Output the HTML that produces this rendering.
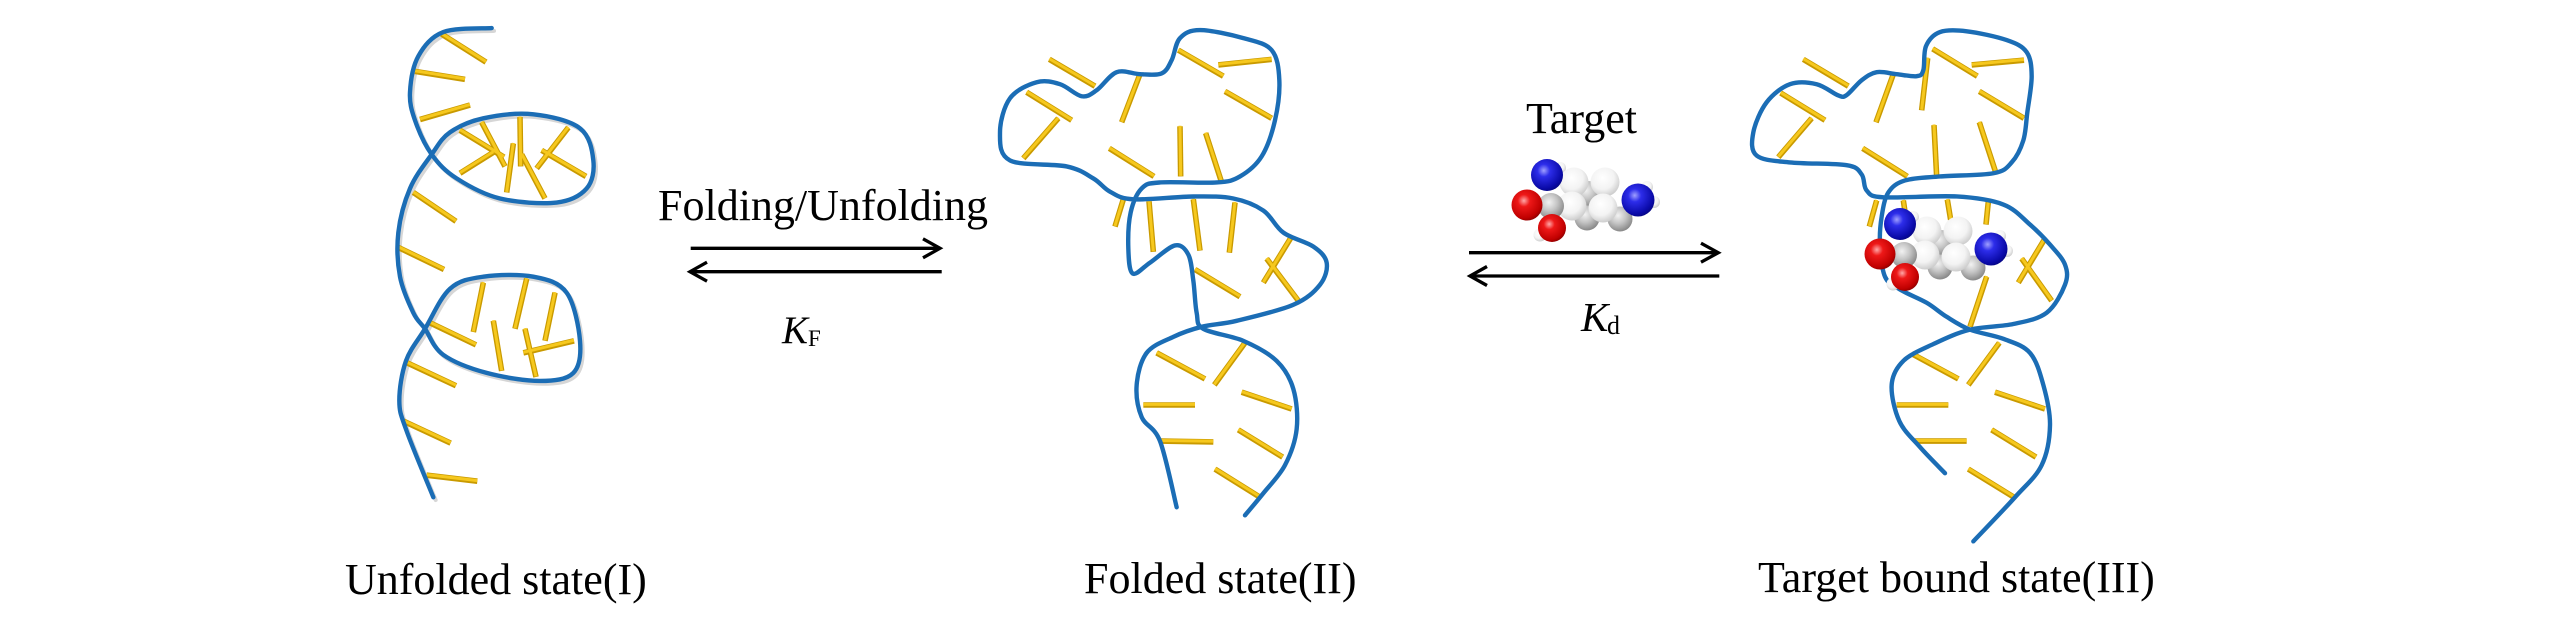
<!DOCTYPE html>
<html>
<head>
<meta charset="utf-8">
<style>
html,body{margin:0;padding:0;background:#fff;}
svg{display:block;}
.bb{fill:none;stroke:#1b6db5;stroke-width:4.4;stroke-linejoin:round;stroke-linecap:round;vector-effect:non-scaling-stroke;}
.sh{fill:none;stroke:#d6d6d6;stroke-width:4;stroke-linejoin:round;stroke-linecap:round;vector-effect:non-scaling-stroke;}
.rd line{stroke:#c99a00;stroke-width:5.6;stroke-linecap:butt;vector-effect:non-scaling-stroke;}
.rd2 line{stroke:#f6c81e;stroke-width:3;stroke-linecap:butt;vector-effect:non-scaling-stroke;}
.ar{stroke:#000;stroke-width:3.3;fill:none;stroke-linecap:butt;stroke-linejoin:miter;}
text{font-family:"Liberation Serif","Times New Roman",serif;fill:#000;}
</style>
</head>
<body>
<svg xmlns="http://www.w3.org/2000/svg" xmlns:xlink="http://www.w3.org/1999/xlink" width="2567" height="630" viewBox="0 0 2567 630">
<defs>
<radialGradient id="gB" cx="0.4" cy="0.36" r="0.7"><stop offset="0" stop-color="#a0a0ff"/><stop offset="0.28" stop-color="#2d2dea"/><stop offset="0.8" stop-color="#0a0aa8"/><stop offset="1" stop-color="#05057a"/></radialGradient>
<radialGradient id="gR" cx="0.4" cy="0.36" r="0.7"><stop offset="0" stop-color="#ffa8a8"/><stop offset="0.28" stop-color="#ee1818"/><stop offset="0.8" stop-color="#c00000"/><stop offset="1" stop-color="#800000"/></radialGradient>
<radialGradient id="gW" cx="0.42" cy="0.36" r="0.72"><stop offset="0" stop-color="#ffffff"/><stop offset="0.55" stop-color="#f3f3f3"/><stop offset="1" stop-color="#c2c2c2"/></radialGradient>
<radialGradient id="gG" cx="0.42" cy="0.36" r="0.72"><stop offset="0" stop-color="#f2f2f2"/><stop offset="0.45" stop-color="#c4c4c4"/><stop offset="1" stop-color="#7a7a7a"/></radialGradient>
</defs>
<rect x="0" y="0" width="2567" height="630" fill="#fff"/>

<!-- ============ Unfolded state (I) ============ -->
<g transform="translate(300,0) scale(0.33333,0.401)">
  <polyline class="sh" transform="translate(7,7)" points="575,70 430,80 355,140 330,230 345,300 395,385 470,445 600,495 770,505 860,470 880,400 840,320 700,285 550,295 450,330 395,385 330,470 295,580 300,690 340,780 375,820 430,885 560,930 720,950 820,930 840,850 800,730 700,690 550,690 450,720 375,820 318,900 298,1000 320,1075 400,1240"/>
  <g class="rd">
    <line x1="425" y1="85" x2="558" y2="155"/>
    <line x1="345" y1="178" x2="495" y2="198"/>
    <line x1="360" y1="298" x2="510" y2="262"/>
    <line x1="480" y1="325" x2="612" y2="392"/>
    <line x1="545" y1="305" x2="615" y2="415"/>
    <line x1="660" y1="292" x2="662" y2="415"/>
    <line x1="480" y1="432" x2="580" y2="380"/>
    <line x1="620" y1="480" x2="640" y2="358"/>
    <line x1="665" y1="385" x2="735" y2="495"/>
    <line x1="710" y1="420" x2="805" y2="318"/>
    <line x1="725" y1="375" x2="858" y2="440"/>
    <line x1="340" y1="480" x2="468" y2="552"/>
    <line x1="290" y1="615" x2="432" y2="672"/>
    <line x1="520" y1="828" x2="550" y2="705"/>
    <line x1="580" y1="800" x2="605" y2="925"/>
    <line x1="645" y1="820" x2="680" y2="695"/>
    <line x1="735" y1="850" x2="765" y2="730"/>
    <line x1="670" y1="880" x2="822" y2="850"/>
    <line x1="675" y1="820" x2="708" y2="940"/>
    <line x1="390" y1="805" x2="528" y2="860"/>
    <line x1="322" y1="905" x2="468" y2="962"/>
    <line x1="310" y1="1050" x2="452" y2="1105"/>
    <line x1="380" y1="1185" x2="532" y2="1200"/>
  </g>
  <polyline class="bb" points="575,70 430,80 355,140 330,230 345,300 395,385 470,445 600,495 770,505 860,470 880,400 840,320 700,285 550,295 450,330 395,385 330,470 295,580 300,690 340,780 375,820 430,885 560,930 720,950 820,930 840,850 800,730 700,690 550,690 450,720 375,820 318,900 298,1000 320,1075 400,1240"/>
</g>

<!-- ============ Folded state (II) ============ -->
<g transform="translate(960,0) scale(0.33333,0.401)">
  <g class="rd">
    <line x1="268" y1="148" x2="405" y2="215"/>
    <line x1="200" y1="230" x2="335" y2="300"/>
    <line x1="295" y1="295" x2="190" y2="395"/>
    <line x1="540" y1="185" x2="485" y2="305"/>
    <line x1="655" y1="125" x2="790" y2="190"/>
    <line x1="775" y1="162" x2="935" y2="148"/>
    <line x1="795" y1="228" x2="935" y2="295"/>
    <line x1="448" y1="370" x2="582" y2="440"/>
    <line x1="660" y1="315" x2="662" y2="440"/>
    <line x1="737" y1="332" x2="785" y2="455"/>
    <line x1="490" y1="497" x2="465" y2="565"/>
    <line x1="567" y1="502" x2="580" y2="628"/>
    <line x1="700" y1="497" x2="720" y2="625"/>
    <line x1="825" y1="505" x2="808" y2="630"/>
    <line x1="705" y1="672" x2="840" y2="740"/>
    <line x1="995" y1="590" x2="910" y2="705"/>
    <line x1="920" y1="645" x2="1015" y2="750"/>
    <line x1="590" y1="880" x2="735" y2="945"/>
    <line x1="855" y1="855" x2="763" y2="960"/>
    <line x1="550" y1="1010" x2="705" y2="1010"/>
    <line x1="845" y1="978" x2="995" y2="1020"/>
    <line x1="600" y1="1100" x2="760" y2="1102"/>
    <line x1="835" y1="1072" x2="968" y2="1140"/>
    <line x1="765" y1="1170" x2="900" y2="1240"/>
  </g>
  <polyline class="bb" points="650,1265 600,1100 545,1040 530,960 560,880 640,840 725,815 830,800 1000,760 1080,710 1100,655 1060,615 970,580 910,525 820,495 700,490 520,497 450,478 400,445 320,415 150,400 120,330 150,245 230,205 300,210 365,240 410,225 470,180 540,185 605,183 635,150 660,95 720,75 850,95 935,125 958,200 945,300 905,390 840,440 770,455 600,455 545,470 512,530 505,620 518,682 570,655 645,612 685,635 700,700 710,780 730,820 850,850 950,900 1000,970 1010,1070 975,1160 910,1230 855,1285"/>
</g>

<!-- ============ Target bound state (III) ============ -->
<g transform="translate(1740,0) scale(0.33333,0.401)">
  <g class="rd">
    <line x1="190" y1="148" x2="325" y2="215"/>
    <line x1="122" y1="232" x2="255" y2="300"/>
    <line x1="215" y1="295" x2="115" y2="392"/>
    <line x1="460" y1="185" x2="408" y2="305"/>
    <line x1="563" y1="145" x2="545" y2="275"/>
    <line x1="578" y1="122" x2="712" y2="190"/>
    <line x1="695" y1="162" x2="852" y2="150"/>
    <line x1="718" y1="228" x2="852" y2="295"/>
    <line x1="368" y1="370" x2="502" y2="440"/>
    <line x1="582" y1="312" x2="590" y2="440"/>
    <line x1="718" y1="305" x2="768" y2="432"/>
    <line x1="410" y1="500" x2="388" y2="565"/>
    <line x1="490" y1="500" x2="495" y2="528"/>
    <line x1="622" y1="498" x2="632" y2="548"/>
    <line x1="745" y1="503" x2="738" y2="560"/>
    <line x1="915" y1="595" x2="835" y2="705"/>
    <line x1="845" y1="645" x2="935" y2="750"/>
    <line x1="740" y1="690" x2="690" y2="815"/>
    <line x1="515" y1="882" x2="655" y2="945"/>
    <line x1="778" y1="855" x2="685" y2="960"/>
    <line x1="765" y1="978" x2="915" y2="1020"/>
    <line x1="470" y1="1010" x2="625" y2="1010"/>
    <line x1="525" y1="1100" x2="680" y2="1100"/>
    <line x1="755" y1="1072" x2="888" y2="1140"/>
    <line x1="685" y1="1170" x2="822" y2="1240"/>
  </g>
  <polyline class="bb" points="615,1180 540,1115 478,1050 455,960 490,900 580,858 690,822 820,808 920,780 975,710 975,660 930,610 870,560 790,510 650,490 430,492 380,475 365,435 320,412 150,405 50,388 40,330 80,255 150,210 230,210 295,238 320,237 365,200 410,180 470,185 530,190 550,175 558,115 600,80 680,78 800,100 860,130 875,190 862,280 850,350 815,405 760,432 600,440 495,450 445,480 425,540 420,610 435,690 480,722 560,755 620,790 690,822 790,845 870,880 910,960 930,1060 905,1160 825,1240 700,1350"/>
</g>

<!-- ============ Molecule (target) ============ -->
<g id="mol">
  <circle cx="1588" cy="194" r="13" fill="url(#gG)"/>
  <circle cx="1587" cy="218" r="12.5" fill="url(#gG)"/>
  <circle cx="1620" cy="219" r="12.5" fill="url(#gG)"/>
  <circle cx="1560" cy="168" r="6" fill="url(#gW)"/>
  <circle cx="1647" cy="187" r="6" fill="url(#gW)"/>
  <circle cx="1654" cy="202" r="6" fill="url(#gW)"/>
  <circle cx="1574" cy="182" r="14.5" fill="url(#gW)"/>
  <circle cx="1605" cy="182" r="14.5" fill="url(#gW)"/>
  <circle cx="1572" cy="206" r="14.5" fill="url(#gW)"/>
  <circle cx="1603" cy="208" r="14.5" fill="url(#gW)"/>
  <circle cx="1551" cy="206" r="13" fill="url(#gG)"/>
  <circle cx="1540" cy="235" r="6.5" fill="url(#gW)"/>
  <circle cx="1552" cy="228" r="14" fill="url(#gR)"/>
  <circle cx="1547" cy="175" r="16" fill="url(#gB)"/>
  <circle cx="1527" cy="205" r="15.5" fill="url(#gR)"/>
  <circle cx="1638" cy="200" r="16.5" fill="url(#gB)"/>
</g>
<use href="#mol" xlink:href="#mol" transform="translate(353,49)"/>

<!-- ============ Arrows ============ -->
<line class="ar" x1="690.7" y1="248.3" x2="939" y2="248.3"/>
<polyline class="ar" points="923,238.8 940,248.3 923,257.8"/>
<line class="ar" x1="691" y1="271.7" x2="941.7" y2="271.7"/>
<polyline class="ar" points="707,262.2 690,271.7 707,281.2"/>

<line class="ar" x1="1469" y1="252.7" x2="1717.3" y2="252.7"/>
<polyline class="ar" points="1701,243.2 1718.3,252.7 1701,262.2"/>
<line class="ar" x1="1471" y1="276" x2="1719.3" y2="276"/>
<polyline class="ar" points="1487,266.5 1470,276 1487,285.5"/>

<!-- ============ Text ============ -->
<text x="658" y="220" font-size="44">Folding/Unfolding</text>
<text x="782" y="343" font-size="39" font-style="italic">K</text>
<text x="808" y="346" font-size="23">F</text>

<text x="1526" y="133" font-size="44">Target</text>
<text x="1581" y="331" font-size="41" font-style="italic">K</text>
<text x="1607" y="334" font-size="26">d</text>

<text x="345" y="594" font-size="44">Unfolded state(I)</text>
<text x="1084" y="593" font-size="44">Folded state(II)</text>
<text x="1758" y="592" font-size="44">Target bound state(III)</text>
</svg>
<script>
(function(){
  var ns="http://www.w3.org/2000/svg";
  // rod highlights
  var rds=document.querySelectorAll("g.rd");
  for(var r=0;r<rds.length;r++){
    var c=rds[r].cloneNode(true);
    c.setAttribute("class","rd2");
    var ls=c.querySelectorAll("line");
    for(var q=0;q<ls.length;q++){
      ls[q].setAttribute("y1",(+ls[q].getAttribute("y1")-1.5));
      ls[q].setAttribute("y2",(+ls[q].getAttribute("y2")-1.5));
    }
    rds[r].parentNode.insertBefore(c,rds[r].nextSibling);
  }
  // smooth backbones
  var pls=document.querySelectorAll("polyline.bb, polyline.sh");
  for(var k=0;k<pls.length;k++){
    var pl=pls[k];
    var nums=pl.getAttribute("points").trim().split(/[\s,]+/).map(Number);
    var p=[];
    for(var i=0;i<nums.length;i+=2)p.push([nums[i],nums[i+1]]);
    var d="M"+p[0][0]+","+p[0][1];
    for(var j=0;j<p.length-1;j++){
      var p0=p[j-1]||p[j],p1=p[j],p2=p[j+1],p3=p[j+2]||p[j+1];
      var c1x=p1[0]+(p2[0]-p0[0])/6,c1y=p1[1]+(p2[1]-p0[1])/6;
      var c2x=p2[0]-(p3[0]-p1[0])/6,c2y=p2[1]-(p3[1]-p1[1])/6;
      d+=" C"+c1x.toFixed(1)+","+c1y.toFixed(1)+" "+c2x.toFixed(1)+","+c2y.toFixed(1)+" "+p2[0]+","+p2[1];
    }
    var path=document.createElementNS(ns,"path");
    path.setAttribute("d",d);
    path.setAttribute("class",pl.getAttribute("class"));
    if(pl.getAttribute("transform"))path.setAttribute("transform",pl.getAttribute("transform"));
    pl.parentNode.replaceChild(path,pl);
  }
})();
</script>
</body>
</html>
